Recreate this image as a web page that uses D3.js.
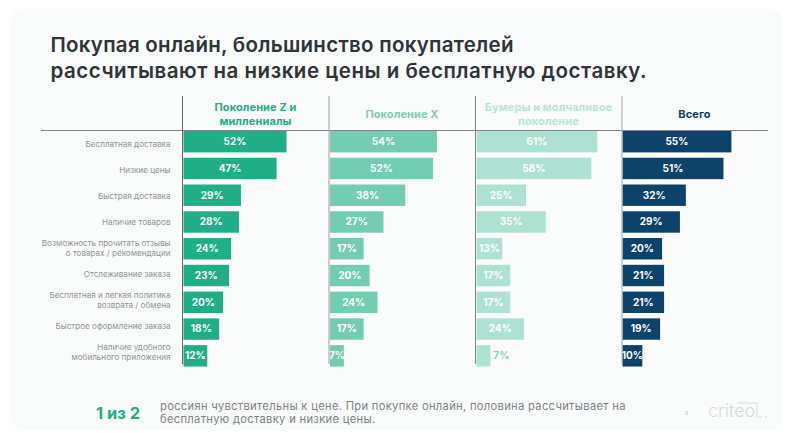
<!DOCTYPE html>
<html>
<head>
<meta charset="utf-8">
<script src="https://cdn.jsdelivr.net/npm/d3@7"></script>
<style>
  html, body { margin: 0; padding: 0; background: #fff; }
  text { font-family: Inter, "Noto Sans", sans-serif; }
  .title { font-size: 20.5px; font-weight: 600; fill: #2f3438; }
  .cat { font-size: 8.1px; fill: #8f9499; }
  .head { font-size: 11px; font-weight: 700; text-anchor: middle; letter-spacing: 0.1px; }
  .val { font-size: 10px; font-weight: 700; text-anchor: middle; }
  .note { font-size: 11.2px; fill: #7d8287; letter-spacing: 0.3px; }
</style>
</head>
<body>
<div id="chart"></div>
<script>
// Data
const titleLines = ["Покупая онлайн, большинство покупателей",
	"рассчитывают на низкие цены и бесплатную доставку."];
const categories = [
	"Бесплатная доставка", "Низкие цены", "Быстрая доставка", "Наличие товаров",
	"Возможность прочитать отзывы|о товарах / рекомендации", "Отслеживание заказа",
	"Бесплатная и легкая политика|возврата / обмена", "Быстрое оформление заказа",
	"Наличие удобного|мобильного приложения"];
const genZ = [52, 47, 29, 28, 24, 23, 20, 18, 12];
const genX = [54, 52, 38, 27, 17, 20, 24, 17, 7];
const boomers = [61, 58, 25, 35, 13, 17, 17, 24, 7];
const total = [55, 51, 32, 29, 20, 21, 21, 19, 10];
const seriesNames = ["Поколение Z и|миллениалы", "Поколение X", "Бумеры и молчаливое|поколение", "Всего"];
const noteLines = ["россиян чувствительны к цене. При покупке онлайн, половина рассчитывает на",
	"бесплатную доставку и низкие цены."];

const series = [genZ, genX, boomers, total];
const barColors = ["#1fae86", "#72cdb2", "#ade2d3", "#0d436b"];
const headColors = ["#25ad88", "#7bd0b7", "#b4e6d8", "#0d436b"];
const panelLefts = [183.5, 330, 476.5, 622.5];
const titleWidths = [463, 596];

const width = 786, height = 433;

let svg = d3.select("#chart").append("svg")
	.attr("width", width)
	.attr("height", height)
	.style("display", "block");

// Card behind everything
svg.append("rect")
	.attr("x", 11).attr("y", 9)
	.attr("width", 771).attr("height", 421)
	.attr("rx", 12)
	.attr("fill", "#fafbfb");

// Title
svg.selectAll(".title")
	.data(titleLines)
	.join("text")
	.attr("class", "title")
	.attr("x", 50.5)
	.attr("y", (d, i) => 52 + i * 25.5)
	.attr("textLength", (d, i) => titleWidths[i])
	.text(d => d);

// Scales: one row scale shared, x is the same for each panel
const y = d3.scaleBand()
	.domain(d3.range(categories.length))
	.range([128.3, 369.2])
	.paddingInner(0.2)
	.paddingOuter(0.1);
const x = d3.scaleLinear().domain([0, 100]).range([0, 198]);

// labels sit on a slightly tighter step than the bars
const labelY = d3.scalePoint()
	.domain(d3.range(categories.length))
	.range([143.8, 352]);

// Category labels
const cats = svg.append("g").selectAll("text")
	.data(categories)
	.join("text")
	.attr("class", "cat")
	.attr("text-anchor", "end");
cats.each(function(d, i) {
	const lines = d.split("|");
	d3.select(this).selectAll("tspan")
		.data(lines)
		.join("tspan")
		.attr("x", 170.5)
		.attr("y", (l, k) => labelY(i) + 2.7 + (k - (lines.length - 1) / 2) * 10)
		.text(l => l);
});

// One panel per generation
series.forEach(function(values, s) {
	let panel = svg.append("g").attr("transform", "translate(" + panelLefts[s] + ",0)");

	panel.selectAll("rect")
		.data(values)
		.join("rect")
		.attr("x", 0)
		.attr("y", (d, i) => y(i))
		.attr("width", d => x(d))
		.attr("height", y.bandwidth())
		.attr("fill", barColors[s]);

	// the lightest series has no room for its 7% inside the bar
	panel.selectAll(".val")
		.data(values)
		.join("text")
		.attr("class", "val")
		.attr("x", d => (s == 2 && d < 10) ? x(d) + 11 : x(d) / 2)
		.attr("y", (d, i) => y(i) + y.bandwidth() / 2 + 3.4)
		.attr("fill", d => (s == 2 && d < 10) ? "#7fd3bb" : "#fff")
		.text(d => d + "%");

	const lines = seriesNames[s].split("|");
	panel.selectAll(".head")
		.data(lines)
		.join("text")
		.attr("class", "head")
		.attr("x", 72)
		.attr("y", (l, k) => 118 + (k - (lines.length - 1) / 2) * 14)
		.attr("fill", headColors[s])
		.text(l => l);
});

// Rules
svg.append("line")
	.attr("x1", 41).attr("x2", 768)
	.attr("y1", 130.5).attr("y2", 130.5)
	.attr("stroke", "#7f8589").attr("stroke-width", 1);
svg.selectAll(".rule")
	.data([182.5, 329, 475.5, 622])
	.join("line")
	.attr("class", "rule")
	.attr("x1", d => d).attr("x2", d => d)
	.attr("y1", 96).attr("y2", 364)
	.attr("stroke", (d, i) => ["#5f676c", "#9aa1a5", "#7f868b", "#a3a9ad"][i])
	.attr("stroke-width", 1);

// Footer
svg.append("text")
	.attr("x", 96).attr("y", 419)
	.attr("font-size", 16.5)
	.attr("font-weight", 700)
	.attr("fill", "#25ad88")
	.text("1 из 2");
svg.selectAll(".note")
	.data(noteLines)
	.join("text")
	.attr("class", "note")
	.attr("x", 160)
	.attr("y", (d, i) => 410 + i * 13)
	.text(d => d);

// Page number and logo
svg.append("text")
	.attr("x", 685).attr("y", 415)
	.attr("font-size", 5)
	.attr("fill", "#c5c9cb")
	.text("8");
svg.append("text")
	.attr("x", 708).attr("y", 417)
	.attr("font-size", 18)
	.attr("font-weight", 300)
	.attr("fill", "#d8dbdc")
	.text("criteo");
svg.append("path")
	.attr("d", "M738 403H757V417H762")
	.attr("fill", "none")
	.attr("stroke", "#d8dbdc");
svg.append("circle")
	.attr("cx", 766).attr("cy", 416.5).attr("r", 0.9)
	.attr("fill", "#d8dbdc");
</script>
</body>
</html>
